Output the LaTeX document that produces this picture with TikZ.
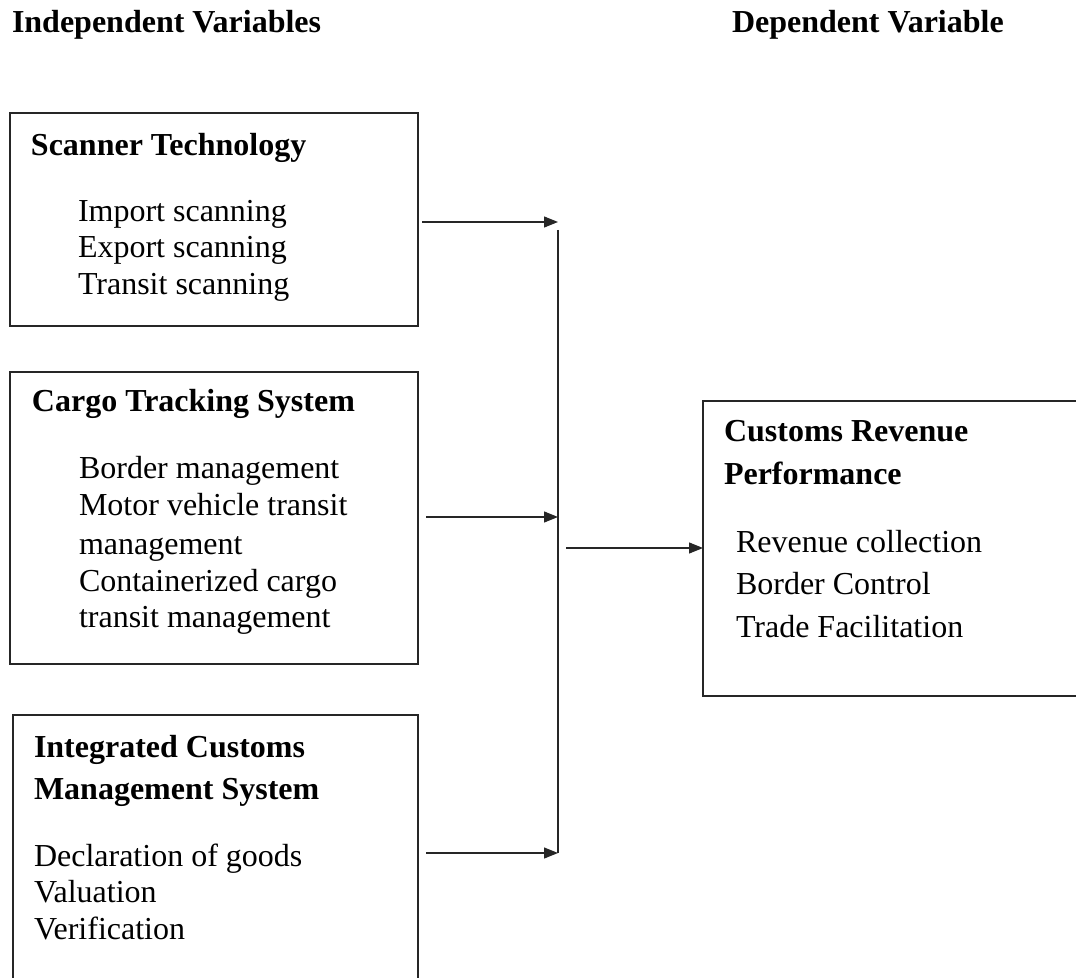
\documentclass[tikz,border=0pt]{standalone}
\usepackage{fontspec}
\setmainfont{Liberation Serif}
\usetikzlibrary{arrows.meta}
\begin{document}
\begin{tikzpicture}[x=0.5pt,y=-0.5pt,
  box/.style={draw=black!85,line width=0.6pt,rectangle,inner sep=0pt,outer sep=0pt,anchor=north west},
  txt/.style={anchor=base west,inner sep=0pt,outer sep=0pt,font=\fontsize{16}{19}\selectfont},
  ttl/.style={txt,font=\fontsize{16}{19}\selectfont\bfseries},
  arr/.style={draw=black!85,line width=0.6pt,-{Triangle[length=7pt,width=5.5pt]}},
  bus/.style={draw=black!85,line width=0.6pt}]
\useasboundingbox (0,0) rectangle (1076,978);
\clip (0,0) rectangle (1076,978);
% headers
\node[ttl] (hind) at (12,33) {Independent Variables};
\node[ttl] (hdep) at (732,33) {Dependent Variable};
% boxes
\node[box,minimum width=204pt,minimum height=106.5pt] (b1) at (10,113) {};
\node[box,minimum width=204pt,minimum height=146pt] (b2) at (10,372) {};
\node[box,minimum width=202.5pt,minimum height=138pt] (b3) at (13,715) {};
\node[box,minimum width=200pt,minimum height=147.5pt] (b4) at (703,401) {};
% box 1 text
\node[ttl] (t1) at (31,156) {Scanner Technology};
\node[txt] (t1a) at (78,222) {Import scanning};
\node[txt] (t1b) at (78,258) {Export scanning};
\node[txt] (t1c) at (78,295) {Transit scanning};
% box 2 text
\node[ttl] (t2) at (32,412) {Cargo Tracking System};
\node[txt] (t2a) at (79,479) {Border management};
\node[txt] (t2b) at (79,516) {Motor vehicle transit};
\node[txt] (t2c) at (79,554) {management};
\node[txt] (t2d) at (79,591) {Containerized cargo};
\node[txt] (t2e) at (79,627) {transit management};
% box 3 text
\node[ttl] (t3) at (34,757) {Integrated Customs};
\node[ttl] (t3b) at (34,799) {Management System};
\node[txt] (t3c) at (34,866) {Declaration of goods};
\node[txt] (t3d) at (34,902) {Valuation};
\node[txt] (t3e) at (34,939) {Verification};
% box 4 text
\node[ttl] (t4) at (724,442) {Customs Revenue};
\node[ttl] (t4b) at (724,484) {Performance};
\node[txt] (t4c) at (736,552) {Revenue collection};
\node[txt] (t4d) at (736,594) {Border Control};
\node[txt] (t4e) at (736,637) {Trade Facilitation};
% connectors
\coordinate (bustop) at (558,230);
\coordinate (busbot) at (558,853);
\coordinate (busout) at (566,548);
\draw[bus] (bustop) -- (busbot);
\draw[arr] (422,222) coordinate (a1) -- (a1 -| bustop);
\draw[arr] (426,517) coordinate (a2) -- (a2 -| bustop);
\draw[arr] (426,853) coordinate (a3) -- (a3 -| bustop);
\draw[arr] (busout) -- (busout -| b4.west);
\end{tikzpicture}
\end{document}
